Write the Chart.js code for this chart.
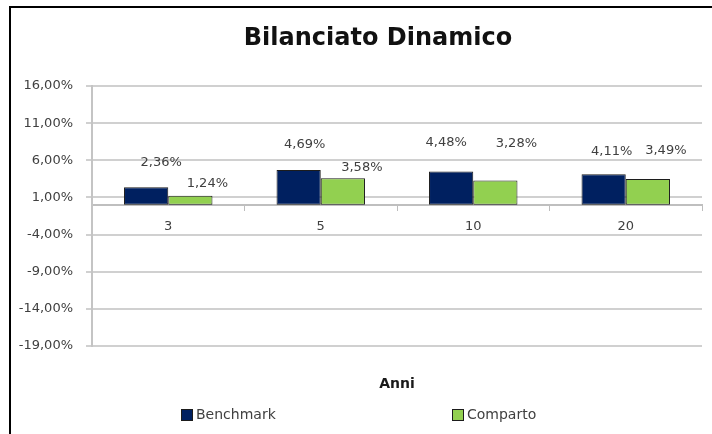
<!DOCTYPE html>
<html><head><meta charset="utf-8">
<script src="https://cdn.jsdelivr.net/npm/chart.js@4/dist/chart.umd.min.js"></script>
<style>html,body{margin:0;padding:0;background:#fff;}#wrap{width:712px;height:434px;position:relative;}</style>
</head><body><div id="wrap"><canvas id="c" width="712" height="434"></canvas></div>
<script>
const chartTitle = 'Bilanciato Dinamico';
const axisTitle = 'Anni';
const categories = ['3', '5', '10', '20'];
const seriesNames = ['Benchmark', 'Comparto'];
const benchmark = [2.36, 4.69, 4.48, 4.11];
const comparto = [1.24, 3.58, 3.28, 3.49];
const yMin = -19, yMax = 16, yStep = 5;

const FONT = 'DejaVu Sans, sans-serif';
const TEXT = '#404040';
const colors = ['#002060', '#92D050'];
// data-label placement (style only), per series and per category
const labelOffsets = [
  [{dx: 15, dy: -25}, {dx: 6, dy: -25}, {dx: -5, dy: -29}, {dx: 8, dy: -23}],
  [{dx: 17, dy: -12}, {dx: 19, dy: -11}, {dx: 21, dy: -37}, {dx: 18, dy: -28}]
];

function fmt(v) { return v.toFixed(2).replace('.', ',') + '%'; }

const decor = {
  id: 'decor',
  afterDatasetsDraw(chart) {
    const ctx = chart.ctx;
    ctx.save();
    ctx.font = '13px ' + FONT;
    ctx.fillStyle = TEXT;
    ctx.textAlign = 'center';
    ctx.textBaseline = 'middle';
    chart.data.datasets.forEach((ds, i) => {
      const meta = chart.getDatasetMeta(i);
      meta.data.forEach((el, j) => {
        const o = labelOffsets[i][j];
        ctx.fillText(fmt(ds.data[j]), el.x + o.dx, el.y + o.dy);
      });
    });
    ctx.restore();
  },
  afterDraw(chart) {
    const ctx = chart.ctx;
    const ca = chart.chartArea;
    ctx.save();
    // frame
    ctx.fillStyle = '#000';
    ctx.fillRect(9, 6, 712 - 9, 2);
    ctx.fillRect(9, 6, 2, 434 - 6);
    // title
    ctx.fillStyle = '#111';
    ctx.font = 'bold 24px ' + FONT;
    ctx.textAlign = 'center';
    ctx.textBaseline = 'middle';
    ctx.fillText(chartTitle, 378, 39);
    // axis title
    ctx.font = 'bold 14px ' + FONT;
    ctx.fillStyle = '#1a1a1a';
    ctx.fillText(axisTitle, (ca.left + ca.right) / 2, 384);
    // legend
    const legendX = [181, 452];
    ctx.font = '14px ' + FONT;
    ctx.textAlign = 'left';
    chart.data.datasets.forEach((ds, i) => {
      const x = legendX[i], y = 409;
      ctx.fillStyle = ds.backgroundColor;
      ctx.fillRect(x, y, 12, 12);
      ctx.strokeStyle = '#1c1c1c';
      ctx.lineWidth = 1;
      ctx.strokeRect(x + 0.5, y + 0.5, 11, 11);
      ctx.fillStyle = TEXT;
      ctx.fillText(ds.label, x + 15, y + 6.5);
    });
    ctx.restore();
  }
};

new Chart(document.getElementById('c'), {
  type: 'bar',
  data: {
    labels: categories,
    datasets: [
      {label: seriesNames[0], data: benchmark, backgroundColor: colors[0], borderColor: '#1c1c1c', borderWidth: 1, borderSkipped: false},
      {label: seriesNames[1], data: comparto, backgroundColor: colors[1], borderColor: '#1c1c1c', borderWidth: 1, borderSkipped: false}
    ]
  },
  options: {
    responsive: false,
    devicePixelRatio: 1,
    animation: false,
    categoryPercentage: 0.58,
    barPercentage: 1.0,
    layout: {padding: {left: 12, right: 10, top: 86, bottom: 88}},
    plugins: {legend: {display: false}, title: {display: false}, tooltip: {enabled: false}},
    scales: {
      x: {
        position: {y: 0},
        grid: {offset: true, drawOnChartArea: false, tickLength: 5, color: '#bdbdbd', lineWidth: 1},
        border: {color: '#bfbfbf', width: 2},
        ticks: {padding: 9, font: {family: FONT, size: 13}, color: TEXT}
      },
      y: {
        min: yMin, max: yMax,
        afterFit(scale) { scale.width = 80; },
        grid: {color: '#d0d0d0', lineWidth: 2, tickLength: 6},
        border: {color: '#c4c4c4', width: 2},
        ticks: {stepSize: yStep, padding: 13, font: {family: FONT, size: 13}, color: TEXT, callback: (v) => fmt(v)}
      }
    }
  },
  plugins: [decor]
});
</script>
</body></html>
